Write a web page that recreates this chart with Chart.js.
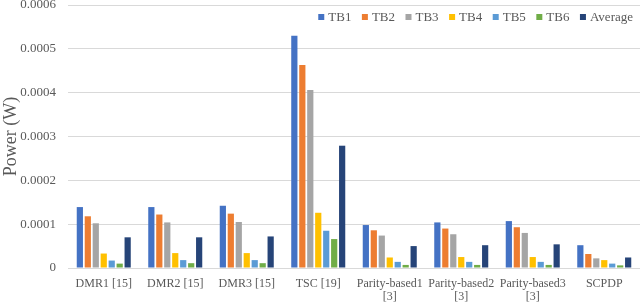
<!DOCTYPE html>
<html>
<head>
<meta charset="utf-8">
<script src="https://cdn.jsdelivr.net/npm/chart.js@4/dist/chart.umd.min.js"></script>
<style>
html,body{margin:0;padding:0;background:#fff;}
#wrap{width:640px;height:302px;position:relative;}
</style>
</head>
<body>
<div id="wrap"><canvas id="c"></canvas></div>
<script>
const categories = ['DMR1 [15]', 'DMR2 [15]', 'DMR3 [15]', 'TSC [19]', ['Parity-based1', '[3]'], ['Parity-based2', '[3]'], ['Parity-based3', '[3]'], 'SCPDP'];
const seriesNames = ['TB1', 'TB2', 'TB3', 'TB4', 'TB5', 'TB6', 'Average'];
const tb1 = [0.000139, 0.000139, 0.000142, 0.000530, 0.000098, 0.000104, 0.000107, 0.000052];
const tb2 = [0.000118, 0.000122, 0.000124, 0.000463, 0.000086, 0.000090, 0.000093, 0.000032];
const tb3 = [0.000102, 0.000104, 0.000105, 0.000406, 0.000074, 0.000077, 0.000080, 0.000022];
const tb4 = [0.000033, 0.000034, 0.000034, 0.000126, 0.000024, 0.000025, 0.000025, 0.000018];
const tb5 = [0.000017, 0.000018, 0.000018, 0.000085, 0.000014, 0.000014, 0.000014, 0.000010];
const tb6 = [0.000010, 0.000011, 0.000011, 0.000066, 0.000007, 0.000007, 0.000007, 0.000006];
const average = [0.000070, 0.000070, 0.000072, 0.000279, 0.000050, 0.000052, 0.000054, 0.000024];
const yTicks = [0, 0.0001, 0.0002, 0.0003, 0.0004, 0.0005, 0.0006];

const colors = ['#4472C4', '#ED7D31', '#A5A5A5', '#FFC000', '#5B9BD5', '#70AD47', '#264478'];
const allValues = [tb1, tb2, tb3, tb4, tb5, tb6, average];
const textColor = '#595959';
const serif = "'Liberation Serif', 'Times New Roman', serif";

const datasets = seriesNames.map((n, i) => ({
  label: n,
  data: allValues[i],
  backgroundColor: colors[i],
  borderWidth: 0,
  categoryPercentage: 0.78,
  barPercentage: 0.78
}));

// Legend drawn inside the plot area, top-right (as in the reference)
const insideLegend = {
  id: 'insideLegend',
  afterDraw(chart) {
    const ctx = chart.ctx;
    const dsets = chart.data.datasets;
    const box = 6, gap = 4, spacing = 10.5;
    const rightEdge = chart.chartArea.right - 7;
    const cy = 17;
    ctx.save();
    ctx.font = '13px ' + serif;
    ctx.textBaseline = 'middle';
    ctx.textAlign = 'left';
    const widths = dsets.map(d => ctx.measureText(d.label).width);
    let total = 0;
    widths.forEach((w, i) => { total += box + gap + w + (i < widths.length - 1 ? spacing : 0); });
    let x = rightEdge - total;
    dsets.forEach((d, i) => {
      ctx.fillStyle = d.backgroundColor;
      ctx.fillRect(x, cy - box / 2, box, box);
      ctx.fillStyle = textColor;
      ctx.fillText(d.label, x + box + gap, cy + 0.5);
      x += box + gap + widths[i] + spacing;
    });
    ctx.restore();
  }
};

new Chart(document.getElementById('c'), {
  type: 'bar',
  data: { labels: categories, datasets },
  plugins: [insideLegend],
  options: {
    responsive: true,
    maintainAspectRatio: false,
    animation: false,
    layout: { padding: { top: 5, right: 0, left: 0, bottom: 0 } },
    plugins: {
      tooltip: { enabled: false },
      legend: { display: false }
    },
    scales: {
      x: {
        grid: { display: false },
        border: { display: true, color: '#d9d9d9' },
        ticks: {
          color: textColor,
          font: { family: serif, size: 12, lineHeight: 1.12 },
          padding: 1,
          maxRotation: 0,
          autoSkip: false
        },
        afterFit: s => { s.height = 34; s.paddingLeft = 0; s.paddingRight = 0; }
      },
      y: {
        min: 0,
        max: 0.0006,
        afterBuildTicks: s => { s.ticks = yTicks.map(v => ({ value: v })); },
        grid: { color: '#d9d9d9', drawTicks: false },
        border: { display: false },
        ticks: {
          color: textColor,
          font: { family: serif, size: 13 },
          padding: 12,
          callback: v => v === 0 ? '0' : v.toFixed(4)
        },
        title: {
          display: true,
          text: 'Power (W)',
          color: textColor,
          font: { family: serif, size: 18 },
          padding: { top: 0, bottom: 0 }
        },
        afterFit: s => { s.width = 68; s.paddingTop = 0; s.paddingBottom = 0; }
      }
    }
  }
});
</script>
</body>
</html>
